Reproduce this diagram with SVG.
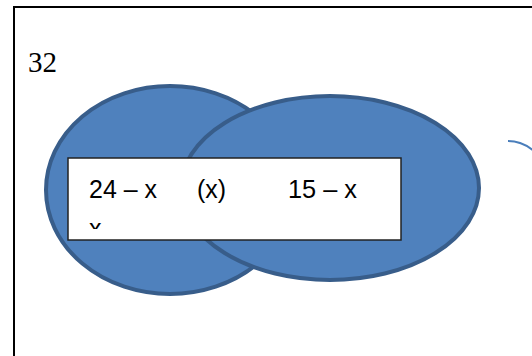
<svg xmlns="http://www.w3.org/2000/svg" width="532" height="356" viewBox="0 0 532 356">
<defs>
<style>
.venn{fill:#4f81bd;stroke:#385d8a;stroke-width:4}
.lbl{font-family:"Liberation Sans",Arial,sans-serif;font-size:25px;fill:#000}
</style>
<clipPath id="boxclip"><rect x="69" y="159" width="331" height="70"/></clipPath>
</defs>
<rect width="532" height="356" fill="#fff"/>
<rect x="14" y="7" width="540" height="370" fill="none" stroke="#000" stroke-width="2"/>
<text x="28" y="72" font-family="'Liberation Serif','Times New Roman',serif" font-size="29" fill="#000">32</text>
<g id="setA"><ellipse class="venn" cx="170" cy="190" rx="124" ry="104"/></g>
<g id="setB"><ellipse class="venn" cx="330" cy="188" rx="149" ry="92"/></g>
<g id="box">
<rect x="68" y="158" width="333" height="82" fill="#fff" stroke="#222" stroke-width="1.5"/>
<g clip-path="url(#boxclip)">
<text class="lbl" x="89" y="198" textLength="68" lengthAdjust="spacingAndGlyphs">24 – x</text>
<text class="lbl" x="197" y="198" textLength="29" lengthAdjust="spacingAndGlyphs">(x)</text>
<text class="lbl" x="288" y="198" textLength="69" lengthAdjust="spacingAndGlyphs">15 – x</text>
<text class="lbl" x="89" y="237">x</text>
</g>
</g>
<g id="connectors">
<path d="M508 141 Q522 141 534 151" fill="none" stroke="#4a7ebb" stroke-width="2"/>
</g>
</svg>
